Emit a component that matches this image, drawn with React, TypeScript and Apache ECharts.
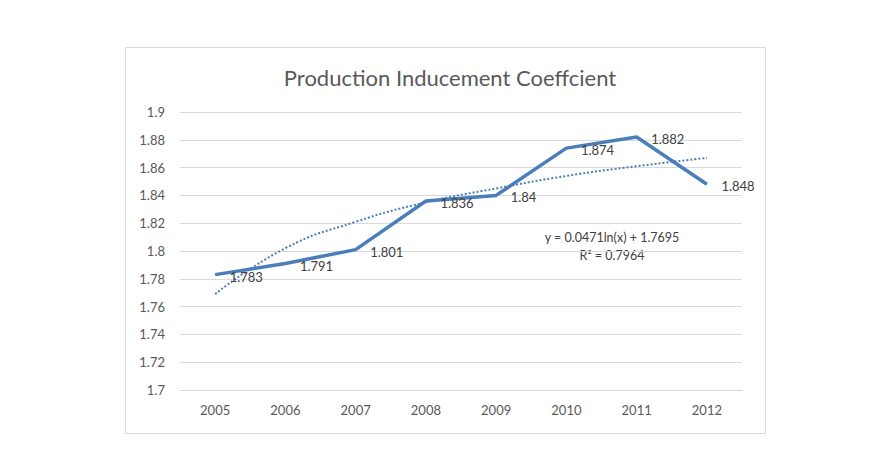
import React, { useEffect, useRef } from "react";
import * as echarts from "echarts";

const years = ["2005", "2006", "2007", "2008", "2009", "2010", "2011", "2012"];
const coefficient = [1.783, 1.791, 1.801, 1.836, 1.84, 1.874, 1.882, 1.848];
// trend line values
const trend = [1.769, 1.802, 1.821, 1.835, 1.845, 1.854, 1.861, 1.867];
const titleText = "Production Inducement Coeffcient";
const equation = "y = 0.0471ln(x) + 1.7695";
const rSquared = "R² = 0.7964";

export default function App() {
  const ref = useRef<HTMLDivElement>(null);
  useEffect(() => {
    if (!ref.current) return;
    const chart = echarts.init(ref.current, null, { renderer: "svg" });
    const font = "Lato, 'Noto Sans', sans-serif";
    chart.setOption({
      animation: false,
      backgroundColor: "#ffffff",
      textStyle: { fontFamily: font },
      title: {
        text: titleText,
        left: 445,
        top: 61,
        textAlign: "center",
        textStyle: { fontSize: 22, fontWeight: "normal", color: "#595959", fontFamily: font },
      },
      graphic: [
        {
          type: "rect",
          shape: { x: 125.5, y: 47.5, width: 640, height: 386 },
          style: { fill: "none", stroke: "#d9d9d9", lineWidth: 1 },
          silent: true,
        },
        {
          type: "text",
          x: 612,
          y: 237,
          style: { text: equation, fontSize: 12.5, fill: "#404040", align: "center", verticalAlign: "middle", fontFamily: font },
        },
        {
          type: "text",
          x: 612,
          y: 255,
          style: { text: rSquared, fontSize: 12.5, fill: "#404040", align: "center", verticalAlign: "middle", fontFamily: font },
        },
      ],
      grid: { left: 180, right: 139, top: 112, bottom: 60, containLabel: false },
      xAxis: {
        type: "category",
        data: years,
        boundaryGap: true,
        axisLine: { show: true, lineStyle: { color: "#d9d9d9" } },
        axisTick: { show: false },
        axisLabel: { color: "#595959", fontSize: 13, margin: 13, fontFamily: font },
      },
      yAxis: {
        type: "value",
        min: 1.7,
        max: 1.9,
        interval: 0.02,
        axisLine: { show: false },
        axisTick: { show: false },
        splitLine: { lineStyle: { color: "#d9d9d9" } },
        axisLabel: {
          color: "#595959",
          fontSize: 13,
          margin: 15,
          fontFamily: font,
          formatter: (v: number) => String(parseFloat(v.toFixed(2))),
        },
      },
      series: [
        {
          type: "line",
          data: trend,
          smooth: true,
          symbol: "none",
          lineStyle: { color: "#4a7ebb", width: 2, type: "dotted" },
          z: 2,
        },
        {
          type: "line",
          data: coefficient,
          symbol: "circle",
          symbolSize: 1,
          showSymbol: true,
          itemStyle: { color: "#4a7ebb", opacity: 0 },
          lineStyle: { color: "#4a7ebb", width: 3.5 },
          label: {
            show: true,
            position: "right",
            distance: 14,
            offset: [0, 2],
            color: "#404040",
            fontSize: 13,
            fontFamily: font,
            opacity: 1,
            formatter: (p: any) => String(p.value),
          },
          z: 3,
        },
      ],
    });
    return () => chart.dispose();
  }, []);
  return (
    <div
      ref={ref}
      style={{ position: "fixed", left: 0, top: 0, width: 881, height: 450 }}
    />
  );
}
